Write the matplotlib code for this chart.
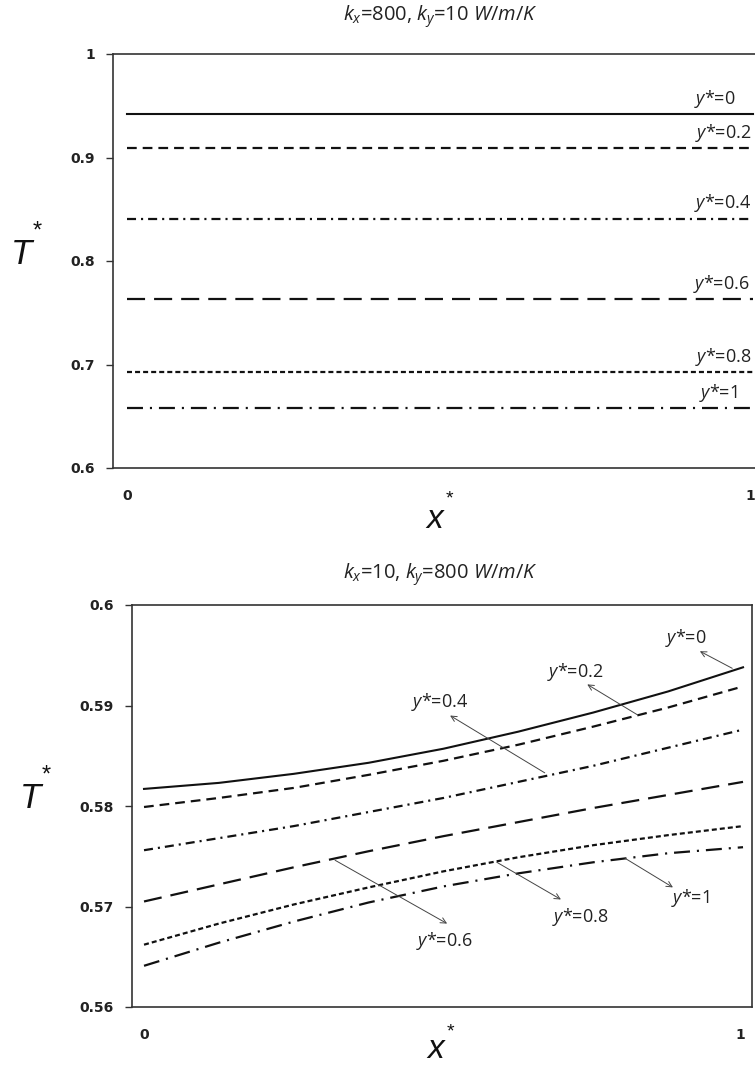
import matplotlib
matplotlib.use("Agg")
import matplotlib.pyplot as plt
import matplotlib.transforms as mtransforms

plt.rcParams['lines.scale_dashes'] = False
plt.rcParams['mathtext.fontset'] = 'custom'
plt.rcParams['mathtext.rm'] = 'Open Sans'
plt.rcParams['mathtext.it'] = 'Open Sans:italic'
plt.rcParams['mathtext.default'] = 'it'
plt.rcParams['font.family'] = ['Open Sans', 'DejaVu Sans']

# ---------------- data ----------------
labels = ["y*=0", "y*=0.2", "y*=0.4", "y*=0.6", "y*=0.8", "y*=1"]

# top panel: kx=800, ky=10 (flat profiles)
x_top = [0.0, 1.0]
top_y0 = [0.942, 0.942]
top_y02 = [0.909, 0.909]
top_y04 = [0.841, 0.841]
top_y06 = [0.763, 0.763]
top_y08 = [0.693, 0.693]
top_y1 = [0.658, 0.658]

# bottom panel: kx=10, ky=800
x_bot = [0.0, 0.125, 0.25, 0.375, 0.5, 0.625, 0.75, 0.875, 1.0]
bot_y0 = [0.5817, 0.5823, 0.5832, 0.5843, 0.5857, 0.5874, 0.5893, 0.5914, 0.5938]
bot_y02 = [0.5799, 0.5808, 0.5818, 0.5831, 0.5845, 0.5861, 0.5879, 0.5898, 0.5919]
bot_y04 = [0.5756, 0.5768, 0.5780, 0.5794, 0.5808, 0.5824, 0.5840, 0.5858, 0.5876]
bot_y06 = [0.5705, 0.5722, 0.5739, 0.5755, 0.5770, 0.5784, 0.5798, 0.5811, 0.5824]
bot_y08 = [0.5662, 0.5683, 0.5702, 0.5719, 0.5735, 0.5749, 0.5761, 0.5771, 0.5780]
bot_y1 = [0.5641, 0.5664, 0.5685, 0.5704, 0.5720, 0.5733, 0.5744, 0.5753, 0.5759]

top_yticks = [0.6, 0.7, 0.8, 0.9, 1.0]
top_yticklabels = ["0.6", "0.7", "0.8", "0.9", "1"]
bot_yticks = [0.56, 0.57, 0.58, 0.59, 0.60]
bot_yticklabels = ["0.56", "0.57", "0.58", "0.59", "0.6"]
xticks = [0, 1]
xticklabels = ["0", "1"]

top_title = r"$k_x$=800, $k_y$=10 $W/m/K$"
bot_title = r"$k_x$=10, $k_y$=800 $W/m/K$"

# ---------------- styles ----------------
styles = [
    dict(linestyle='-', lw=1.5),
    dict(linestyle=(0, (7.0, 4.3)), lw=1.6),
    dict(linestyle=(0, (6.5, 3.6, 1.5, 3.6)), lw=1.6),
    dict(linestyle=(0, (13, 6.5)), lw=1.6),
    dict(linestyle=(0, (3.6, 2.2)), lw=1.6),
    dict(linestyle=(0, (11.5, 5, 1.5, 5)), lw=1.6),
]

W, H = 755, 1067
fig = plt.figure(figsize=(W / 100, H / 100), dpi=100)


def fx(px):
    return px / W


def fy(py):
    return 1 - py / H


SPINE = '#333333'
LABSIZE = 13


def style_axes(ax, right=True):
    for s in ['left', 'bottom', 'top', 'right']:
        ax.spines[s].set_color(SPINE)
        ax.spines[s].set_linewidth(1.2)
    ax.spines['right'].set_visible(right)
    ax.tick_params(axis='y', direction='out', length=5, width=1.0, color=SPINE, pad=8)
    ax.tick_params(axis='x', length=0, pad=15)
    for lab in ax.get_xticklabels() + ax.get_yticklabels():
        lab.set_fontfamily('DejaVu Sans')
        lab.set_fontweight('bold')
        lab.set_fontsize(10)
        lab.set_color('#222222')
    lab1 = ax.get_xticklabels()[-1]
    lab1.set_transform(lab1.get_transform() +
                       mtransforms.ScaledTranslation(-3 / 100, 0, fig.dpi_scale_trans))


def ylab(txt):
    return r"$y$*=" + txt.split("=")[1]


# ---------------- top axes ----------------
axt = fig.add_axes([fx(113), fy(468), fx(755) - fx(113), fy(54) - fy(468)])
top_series = [top_y0, top_y02, top_y04, top_y06, top_y08, top_y1]
for ys, st in zip(top_series, styles):
    axt.plot(x_top, ys, color='#111111', **st)
axt.set_xlim(-0.0224, 1.0032)
axt.set_ylim(0.6, 1.0)
axt.set_yticks(top_yticks)
axt.set_yticklabels(top_yticklabels)
axt.set_xticks(xticks)
axt.set_xticklabels(xticklabels)
style_axes(axt, right=False)

top_label_right = [0.972, 0.998, 0.998, 0.995, 0.998, 0.976]
for ys, lab, xr in zip(top_series, labels, top_label_right):
    axt.annotate(ylab(lab), xy=(xr, ys[-1]), xytext=(0, 3),
                 textcoords='offset points', ha='right', va='bottom',
                 fontsize=LABSIZE, color='#222222')

# ---------------- bottom axes ----------------
axb = fig.add_axes([fx(131.5), fy(1007), fx(752) - fx(131.5), fy(605) - fy(1007)])
bot_series = [bot_y0, bot_y02, bot_y04, bot_y06, bot_y08, bot_y1]
for ys, st in zip(bot_series, styles):
    axb.plot(x_bot, ys, color='#111111', **st)
axb.set_xlim(-0.0209, 1.015)
axb.set_ylim(0.56, 0.60)
axb.set_yticks(bot_yticks)
axb.set_yticklabels(bot_yticklabels)
axb.set_xticks(xticks)
axb.set_xticklabels(xticklabels)
style_axes(axb, right=True)

# annotations: (text pos, arrow head, arrow tail) in data coords
ann = [
    ((0.905, 0.5967), (0.928, 0.5954), (0.982, 0.5937)),
    ((0.720, 0.5933), (0.740, 0.5921), (0.823, 0.5891)),
    ((0.494, 0.5903), (0.511, 0.5890), (0.669, 0.5833)),
    ((0.501, 0.5666), (0.506, 0.5683), (0.319, 0.5746)),
    ((0.728, 0.5690), (0.696, 0.5707), (0.589, 0.5744)),
    ((0.912, 0.5708), (0.883, 0.5719), (0.803, 0.5748)),
]
for lab, (tp, head, tail) in zip(labels, ann):
    axb.annotate("", xy=head, xytext=tail,
                 arrowprops=dict(arrowstyle='->', lw=0.7, color='#444444',
                                 shrinkA=0, shrinkB=0, mutation_scale=10))
    axb.text(tp[0], tp[1], ylab(lab), ha='center', va='center',
             fontsize=LABSIZE, color='#222222')

# ---------------- titles & axis labels ----------------
fig.text(fx(440), fy(17), top_title, ha='center', va='center', fontsize=14.5, color='#222222')
fig.text(fx(440), fy(575), bot_title, ha='center', va='center', fontsize=14.5, color='#222222')

for (tx, ty), (sx, sy) in [((22, 255), (37, 232)), ((31, 798), (46, 776))]:
    fig.text(fx(tx), fy(ty), "T", ha='center', va='center', fontsize=25,
             style='italic', family='Liberation Sans', color='#111111')
    fig.text(fx(sx), fy(sy), "*", ha='center', va='center', fontsize=17,
             family='Liberation Sans', color='#111111')

for (tx, ty), (sx, sy) in [((435, 519), (449, 499)), ((436, 1050), (450, 1032))]:
    fig.text(fx(tx), fy(ty), "x", ha='center', va='center', fontsize=24,
             style='italic', family='Liberation Sans', color='#111111')
    fig.text(fx(sx), fy(sy), "*", ha='center', va='center', fontsize=14,
             family='Liberation Sans', color='#111111')

fig.savefig("out.png", dpi=100)
